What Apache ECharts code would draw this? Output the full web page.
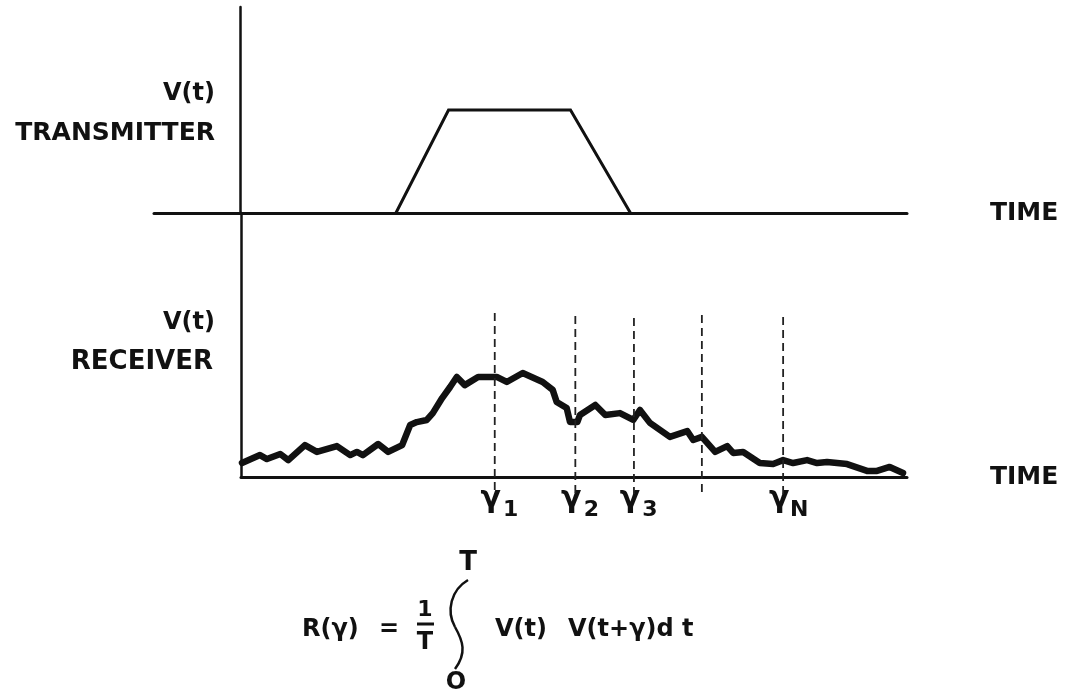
<!DOCTYPE html>
<html>
<head>
<meta charset="utf-8">
<script src="https://cdn.jsdelivr.net/npm/echarts@6/dist/echarts.min.js"></script>
<style>html,body{margin:0;padding:0;background:#fff}#c{width:1065px;height:694px}</style>
</head>
<body>
<div id="c"></div>
<script>
// ---- data ----
const transmitterTime = [23.3, 31.2, 49.5, 58.5];
const transmitterVolt = [0, 1, 1, 0];

const receiverTime = [0.15,2.85,3.9,5.9,7.1,9.6,11.4,14.4,16.4,17.4,18.3,20.6,22.1,24.2,25.4,26.4,27.9,28.8,30.2,31.4,32.4,33.6,35.6,38.4,39.9,42.3,45.3,46.8,47.4,48.9,49.4,50.5,50.9,53.2,54.7,56.9,58.9,59.9,61.4,64.4,67.0,67.9,69.2,71.2,73.0,73.9,75.4,77.9,79.9,81.4,82.9,85.0,86.5,88.0,91.0,94.0,95.5,97.4,99.4];
const receiverVolt = [5.3,8.3,6.8,8.7,6.4,12.1,9.5,11.7,8.3,9.5,8.3,12.5,9.5,12.1,19.7,20.8,21.6,24.2,29.9,34.1,37.9,34.8,37.9,37.9,36.0,39.4,36.0,33.0,28.4,26.1,20.8,20.8,23.5,27.3,23.5,24.2,21.6,25.4,20.5,15.2,17.4,14.0,15.2,9.5,11.7,9.1,9.5,5.3,4.9,6.4,5.3,6.4,5.3,5.7,4.9,2.3,2.3,3.8,1.5];

const gammaTime = [38.1, 50.2, 59.0, 69.2, 81.4];
const gammaTop = [62.1, 61.0, 60.2, 61.4, 60.6];
const gammaBottom = -6.4;
const gammaSubs = ['1', '2', '3', '', 'N'];

const axisName = 'TIME';
const txLabel = ['V(t)', 'TRANSMITTER'];
const rxLabel = ['V(t)', 'RECEIVER'];

// ---- chart ----
const FONT = '"DejaVu Sans", sans-serif';
const INK = '#111';
const chart = echarts.init(document.getElementById('c'), null, {renderer: 'canvas'});

function axisCommon() {
  return {
    type: 'value',
    axisTick: {show: false},
    axisLabel: {show: false},
    splitLine: {show: false}
  };
}

const labelled = gammaTime.map((t, i) => ({t, s: gammaSubs[i]})).filter(d => d.s !== '');

const option = {
  backgroundColor: '#fff',
  animation: false,
  grid: [
    {left: 154, right: 158, top: 7, bottom: 481, outerBoundsMode: 'none'},
    {left: 241, right: 158, top: 213, bottom: 217, outerBoundsMode: 'none'}
  ],
  xAxis: [
    Object.assign(axisCommon(), {
      gridIndex: 0, min: -13, max: 100,
      axisLine: {show: true, onZero: true, lineStyle: {color: INK, width: 3}},
      name: axisName, nameLocation: 'end', nameGap: 83,
      nameTextStyle: {color: INK, fontFamily: FONT, fontWeight: 'bold', fontSize: 25, align: 'left', verticalAlign: 'middle', padding: [16, 0, 0, 0]}
    }),
    Object.assign(axisCommon(), {
      gridIndex: 1, min: 0, max: 100,
      axisLine: {show: true, onZero: false, lineStyle: {color: INK, width: 3}},
      name: axisName, nameLocation: 'end', nameGap: 83,
      nameTextStyle: {color: INK, fontFamily: FONT, fontWeight: 'bold', fontSize: 25, align: 'left', verticalAlign: 'middle', padding: [10, 0, 0, 0]}
    })
  ],
  yAxis: [
    Object.assign(axisCommon(), {
      gridIndex: 0, min: 0, max: 2,
      axisLine: {show: true, onZero: true, lineStyle: {color: INK, width: 2.5}}
    }),
    Object.assign(axisCommon(), {
      gridIndex: 1, min: 0, max: 100,
      axisLine: {show: true, onZero: false, lineStyle: {color: INK, width: 2.5}}
    })
  ],
  series: [
    {
      type: 'line', xAxisIndex: 0, yAxisIndex: 0, symbol: 'none', silent: true,
      data: transmitterTime.map((t, i) => [t, transmitterVolt[i]]),
      lineStyle: {color: INK, width: 3, join: 'miter'}
    },
    {
      type: 'line', xAxisIndex: 1, yAxisIndex: 1, symbol: 'none', silent: true, clip: false,
      data: receiverTime.map((t, i) => [t, receiverVolt[i]]),
      lineStyle: {color: INK, width: 6.5, cap: 'round', join: 'round'}
    },
    ...gammaTime.map((t, i) => ({
      type: 'line', xAxisIndex: 1, yAxisIndex: 1, symbol: 'none', silent: true, clip: false,
      data: [[t, gammaTop[i]], [t, gammaBottom]],
      lineStyle: {color: '#222', width: 1.8, type: [8, 5]}
    })),
    {
      type: 'scatter', xAxisIndex: 1, yAxisIndex: 1, clip: false, silent: true,
      symbolSize: 0, itemStyle: {color: INK, opacity: 1},
      data: labelled.map(d => [d.t, 0]),
      label: {show: true, position: 'inside', formatter: 'γ', offset: [-4, 22],
        color: INK, opacity: 1, fontFamily: FONT, fontWeight: 'bold', fontSize: 30, textBorderWidth: 0}
    },
    {
      type: 'scatter', xAxisIndex: 1, yAxisIndex: 1, clip: false, silent: true,
      symbolSize: 0, itemStyle: {color: INK, opacity: 1},
      data: labelled.map(d => ({value: [d.t, 0], name: d.s})),
      label: {show: true, position: 'inside', formatter: p => p.name, offset: [16, 33],
        color: INK, opacity: 1, fontFamily: FONT, fontWeight: 'bold', fontSize: 22, textBorderWidth: 0}
    }
  ],
  graphic: [
    {type: 'text', style: {text: txLabel[0], x: 215, y: 94, align: 'right', verticalAlign: 'middle', fill: INK, font: 'bold 24px ' + FONT}},
    {type: 'text', style: {text: txLabel[1], x: 215, y: 133, align: 'right', verticalAlign: 'middle', fill: INK, font: 'bold 25px ' + FONT}},
    {type: 'text', style: {text: rxLabel[0], x: 215, y: 323, align: 'right', verticalAlign: 'middle', fill: INK, font: 'bold 24px ' + FONT}},
    {type: 'text', style: {text: rxLabel[1], x: 213, y: 362, align: 'right', verticalAlign: 'middle', fill: INK, font: 'bold 26px ' + FONT}},
    // formula
    {type: 'text', style: {text: 'R(γ)', x: 302, y: 630, align: 'left', verticalAlign: 'middle', fill: INK, font: 'bold 24px ' + FONT}},
    {type: 'text', style: {text: '=', x: 389, y: 630, align: 'center', verticalAlign: 'middle', fill: INK, font: 'bold 24px ' + FONT}},
    {type: 'text', style: {text: '1', x: 425, y: 610, align: 'center', verticalAlign: 'middle', fill: INK, font: 'bold 22px ' + FONT}},
    {type: 'line', shape: {x1: 417, y1: 624, x2: 434, y2: 624}, style: {stroke: INK, lineWidth: 3}},
    {type: 'text', style: {text: 'T', x: 425, y: 643, align: 'center', verticalAlign: 'middle', fill: INK, font: 'bold 24px ' + FONT}},
    {type: 'bezierCurve', shape: {x1: 468, y1: 580, cpx1: 451, cpy1: 590, cpx2: 446, cpy2: 611, x2: 455, y2: 627}, style: {stroke: INK, lineWidth: 2.5, fill: null}},
    {type: 'bezierCurve', shape: {x1: 455, y1: 627, cpx1: 463, cpy1: 641, cpx2: 467, cpy2: 653, x2: 455, y2: 669}, style: {stroke: INK, lineWidth: 2.5, fill: null}},
    {type: 'text', style: {text: 'T', x: 468, y: 563, align: 'center', verticalAlign: 'middle', fill: INK, font: 'bold 26px ' + FONT}},
    {type: 'text', style: {text: 'O', x: 456, y: 683, align: 'center', verticalAlign: 'middle', fill: INK, font: 'bold 24px ' + FONT}},
    {type: 'text', style: {text: 'V(t)', x: 495, y: 630, align: 'left', verticalAlign: 'middle', fill: INK, font: 'bold 24px ' + FONT}},
    {type: 'text', style: {text: 'V(t+γ)d t', x: 568, y: 630, align: 'left', verticalAlign: 'middle', fill: INK, font: 'bold 24px ' + FONT}}
  ]
};
chart.setOption(option);
</script>
</body>
</html>
